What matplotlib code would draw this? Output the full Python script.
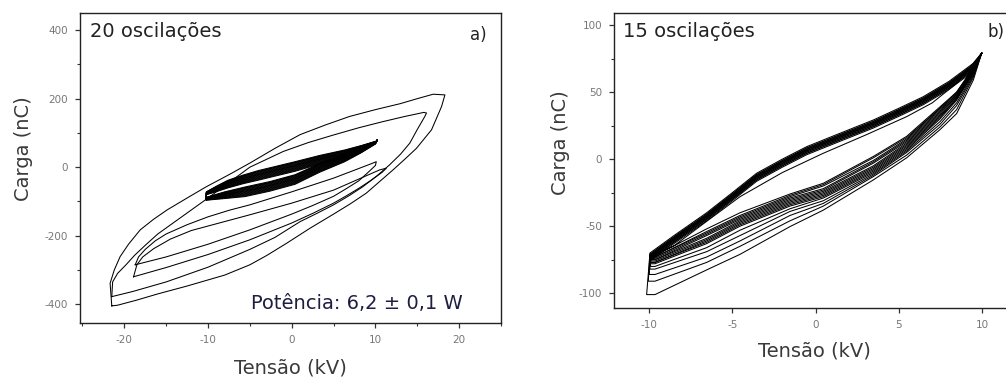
import matplotlib
matplotlib.use('Agg')
import matplotlib.pyplot as plt
from matplotlib.ticker import MultipleLocator

matplotlib.rc('font', family='DejaVu Sans')
matplotlib.rcParams['axes.unicode_minus'] = False

# ---------------- panel a) 20 oscilacoes ----------------
# two big loops (first oscillations)
loopA_v = [-21.5, -21.7, -21.2, -20.5, -19.5, -18.1, -16.5, -14.9, -12.5, -10.2, -7.5, -5.0,
           -2.0, 1.0, 4.0, 6.9, 10.0, 12.9, 15.0, 16.9, 18.3,
           17.9, 17.3, 16.7, 15.8, 14.9, 13.5, 12.1, 10.5, 8.9, 7.0, 5.0, 2.2, -0.6,
           -3.0, -5.0, -8.0, -12.5, -16.0, -18.5, -20.8, -21.5]
loopA_q = [-405, -339, -300, -261, -225, -183, -152, -125, -90, -57, -22, 12,
           55, 95, 123, 148, 168, 185, 200, 213, 211,
           177, 143, 109, 82, 55, 23, -8, -42, -76, -107, -137, -178, -222,
           -258, -285, -315, -347, -370, -388, -403, -405]

loopB_v = [-21.5, -21.4, -20.8, -19.8, -18.8, -17.5, -16.0, -14.0, -12.0, -10.0, -7.5, -5.0,
           -1.0, 2.0, 5.0, 8.0, 10.9, 13.5, 15.8, 16.1,
           15.9, 15.0, 14.1, 13.0, 11.7, 10.2, 8.5, 6.8, 5.0, 3.0, 1.0, -2.0,
           -5.0, -10.0, -15.0, -19.0, -21.5]
loopB_q = [-378, -335, -310, -285, -258, -228, -195, -160, -125, -90, -45, 0,
           46, 72, 94, 115, 133, 148, 160, 158,
           148, 110, 70, 38, 7, -25, -57, -84, -110, -135, -159, -205,
           -240, -292, -335, -363, -378]

# two medium loops
loopC1_v = [-18.7, -18.3, -17.5, -16.3, -15.0, -12.5, -10.0, -7.5, -5.0, 0.0, 5.0, 9.5, 10.1,
            10.0, 9.0, 8.0, 6.5, 5.0, 2.5, 0.0, -5.0, -10.0, -15.0, -18.7]
loopC1_q = [-285, -262, -240, -215, -195, -168, -145, -126, -110, -72, -32, 10, 16,
            5, -18, -40, -63, -85, -112, -137, -183, -225, -262, -285]

loopC2_v = [-18.9, -18.5, -17.8, -16.5, -14.5, -12.0, -8.5, -5.0, 0.0, 5.0, 10.5, 11.3,
            10.8, 9.5, 8.0, 6.5, 5.0, 2.5, 0.0, -5.0, -10.0, -15.0, -18.9]
loopC2_q = [-320, -285, -262, -238, -210, -185, -162, -139, -105, -67, -8, -3,
            -15, -38, -62, -84, -105, -135, -163, -212, -255, -293, -320]

# small stacked loops (+-10 kV)
small_v = [-10.2, -10.2, -8.8, -7.6, -5.8, -4.0, -1.8, 0.4, 3.3, 6.3, 8.3, 10.1, 10.2,
           10.0, 8.3, 6.3, 3.3, 0.4, -2.6, -5.6, -8.0, -10.2]
small_q = [-88, -72, -53, -38, -23, -10, 3, 16, 34, 50, 63, 76, 79,
           72, 56, 38, 10, -22, -42, -58, -72, -88]
small_taper = [0.3, 0.3, 0.6, 0.8, 0.9, 1, 1, 1, 0.9, 0.8, 0.5, 0.15, 0,
               0.15, 0.5, 0.8, 0.9, 1, 1, 1, 0.7, 0.3]
small_shift = [0, -2, -3, -5, -7, -9, -11, -12, -14, -16, -18, -20, -22, -24, -26, -28]

# ---------------- panel b) 15 oscilacoes ----------------
b_up_v = [-9.94, -8.5, -6.54, -5.0, -3.54, -2.0, -0.54, 1.5, 3.46, 5.0, 6.46, 8.0, 9.46, 9.96]
b_up_q = [-70, -57, -40, -25, -10.5, 0, 9.3, 19.5, 29.2, 38, 46.6, 58, 71.5, 79]
b_up_shift = [0, -1, -2, -3, -4, -5, -6, -1, -2, -3, -4, -5, -2, -3]

b_lo_v = [-9.64, -6.54, -4.54, -1.54, 0.46, 3.46, 5.46, 7.46, 8.46, 9.46, 9.96]
b_lo_q = [
    [-101, -82.6, -71, -50.3, -38, -15.5, 1, 22, 34, 59, 79],
    [-91, -77, -65, -46, -35, -13, 3, 24, 37, 61, 79],
    [-86, -73, -61, -42, -33, -12, 5, 26, 40, 62, 79],
    [-82, -69, -57, -39, -31, -11, 6, 28, 42, 63, 79],
    [-80, -66, -53, -37, -29, -10, 7, 30, 44, 64, 79],
    [-78, -63, -50, -35, -28, -9, 8, 31, 45, 64, 79],
    [-77, -62, -49, -34, -27, -8, 9, 32, 45, 65, 79],
    [-77, -61, -48, -33, -26, -7, 10, 33, 46, 65, 79],
    [-76, -60, -47, -32, -25, -6, 11, 34, 47, 66, 79],
    [-75, -59, -46, -31, -24, -5, 12, 35, 47, 66, 79],
    [-75, -57, -45, -30, -23, -3, 13, 36, 48, 67, 79],
    [-74, -56, -44, -29, -22, -2, 14, 37, 48, 67, 79],
    [-73, -55, -43, -28, -20, -1, 15, 38, 49, 68, 79],
    [-73, -54, -42, -27, -19, 1, 16, 38, 50, 68, 79],
    [-72, -52, -40, -26, -18, 2, 17, 39, 50, 68, 79],
]
b_tip_v = [-10.14, -10.04, -9.98, -9.94, -9.9, -9.9, -9.9, -9.9, -9.9, -9.9,
           -9.9, -9.9, -9.9, -9.9, -9.9]
# last trace (inner upper edge)
b_inner_v = [-9.9, -8.54, -6.5, -4.54, -2.0, 0.46, 3.0, 5.46, 7.0, 8.46, 9.96]
b_inner_q = [-72, -65, -46, -28, -10, 4.4, 18, 31.7, 42, 56.6, 79]

LW = 0.75
TICK_COLOR = '#777777'
LABEL_COLOR = '#3a3a3a'

fig = plt.figure(figsize=(10.06, 3.81), dpi=100)
ax_a = fig.add_axes([0.0795, 0.1522, 0.4185, 0.8136])
ax_b = fig.add_axes([0.6103, 0.1916, 0.3993, 0.7743])

# panel a loops
for v, q in [(loopA_v, loopA_q), (loopB_v, loopB_q),
             (loopC1_v, loopC1_q), (loopC2_v, loopC2_q)]:
    ax_a.plot(v, q, color='k', lw=LW)
for s in small_shift:
    q = [small_q[i] + s * small_taper[i] for i in range(len(small_q))]
    ax_a.plot(small_v, q, color='k', lw=LW)

# panel b loops
for k in range(len(b_lo_q)):
    row = b_lo_q[k]
    v = list(reversed(b_lo_v)) + [b_tip_v[k]]
    q = list(reversed(row)) + [row[0]]
    if k < len(b_up_shift):
        v += b_up_v
        q += [b_up_q[i] + (b_up_shift[k] if i < len(b_up_q) - 1 else 0)
              for i in range(len(b_up_q))]
    else:
        v += b_inner_v
        q += b_inner_q
    ax_b.plot(v, q, color='k', lw=LW)

# axes styling
ax_a.set_xlim(-25.3, 25)
ax_a.set_ylim(-455, 450)
ax_a.xaxis.set_major_locator(MultipleLocator(10))
ax_a.xaxis.set_minor_locator(MultipleLocator(5))
ax_a.yaxis.set_major_locator(MultipleLocator(200))
ax_a.yaxis.set_minor_locator(MultipleLocator(100))

ax_b.set_xlim(-12.1, 12.0)
ax_b.set_ylim(-111, 109)
ax_b.xaxis.set_major_locator(MultipleLocator(5))
ax_b.yaxis.set_major_locator(MultipleLocator(50))
ax_b.yaxis.set_minor_locator(MultipleLocator(25))

for ax in (ax_a, ax_b):
    for sp in ax.spines.values():
        sp.set_linewidth(1.0)
        sp.set_color('#222222')
    ax.tick_params(which='major', direction='out', length=3.5, width=0.9,
                   color='#333333', labelsize=7.5, labelcolor=TICK_COLOR, pad=5)
    ax.tick_params(which='minor', direction='out', length=2, width=0.8,
                   color='#333333')
    ax.tick_params(top=False, right=False)
    ax.set_xlabel('Tensão (kV)', fontsize=14, color=LABEL_COLOR)
    ax.set_ylabel('Carga (nC)', fontsize=14, color=LABEL_COLOR)

ax_a.xaxis.set_label_coords(0.5, -0.113)
ax_a.yaxis.set_label_coords(-0.112, 0.563)
ax_b.xaxis.set_label_coords(0.5, -0.112)
ax_b.yaxis.set_label_coords(-0.1095, 0.561)

ax_a.text(0.024, 0.939, '20 oscilações', transform=ax_a.transAxes,
          fontsize=14, color='#222222', ha='left', va='center')
ax_a.text(0.967, 0.929, 'a)', transform=ax_a.transAxes,
          fontsize=12, color='#222222', ha='right', va='center')
ax_a.text(0.657, 0.0645, 'Potência: 6,2 ± 0,1 W', transform=ax_a.transAxes,
          fontsize=14, color='#1e1e40', ha='center', va='center')

ax_b.text(0.022, 0.936, '15 oscilações', transform=ax_b.transAxes,
          fontsize=14, color='#222222', ha='left', va='center')
ax_b.text(0.931, 0.936, 'b)', transform=ax_b.transAxes,
          fontsize=12, color='#222222', ha='left', va='center')

fig.savefig('out.png', dpi=100)
